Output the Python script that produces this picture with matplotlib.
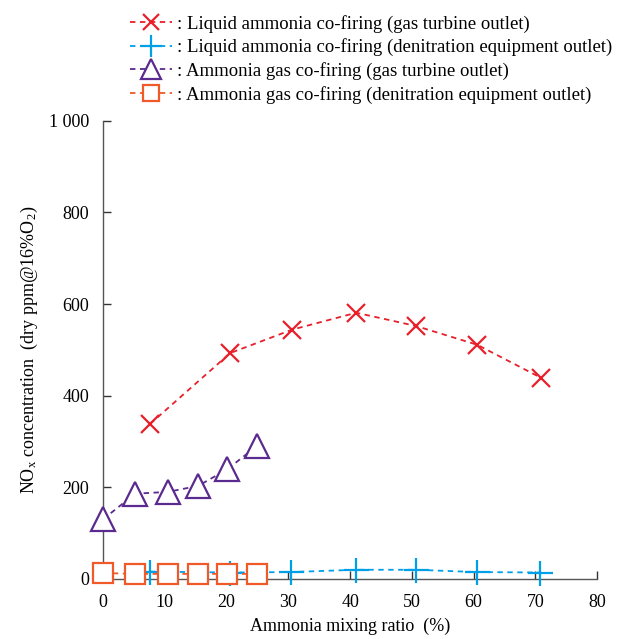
import matplotlib
matplotlib.use("Agg")
import matplotlib.pyplot as plt

plt.rcParams["font.family"] = ["Liberation Serif", "DejaVu Serif"]
plt.rcParams["mathtext.fontset"] = "stix"

liquid_gt_x = [7.6, 20.6, 30.6, 41.0, 50.7, 60.6, 70.9]
liquid_gt_y = [338, 493, 544, 581, 552, 511, 439]

liquid_de_x = [7.6, 20.6, 30.4, 41.0, 50.6, 60.5, 70.8]
liquid_de_y = [16, 14, 15, 20, 20, 15, 14]

gas_gt_x = [0, 5.2, 10.5, 15.4, 20.1, 24.9]
gas_gt_y = [130, 186, 190, 203, 239, 290]

gas_de_x = [0, 5.2, 10.5, 15.4, 20.1, 24.9]
gas_de_y = [13, 11, 11, 11, 11, 11]

labels = [
    ": Liquid ammonia co-firing (gas turbine outlet)",
    ": Liquid ammonia co-firing (denitration equipment outlet)",
    ": Ammonia gas co-firing (gas turbine outlet)",
    ": Ammonia gas co-firing (denitration equipment outlet)",
]

red = "#e8202a"
blue = "#00a0e9"
purple = "#5b2a8e"
orange = "#f05a28"

fig = plt.figure(figsize=(6.24, 6.39), dpi=100)
ax = fig.add_axes([0.165, 0.094, 0.792, 0.717])

dash = (0, (3, 2.5))
h1, = ax.plot(liquid_gt_x, liquid_gt_y, color=red, linestyle=dash, lw=1.3,
              marker="x", ms=13, mew=1.6, label=labels[0], zorder=3)
h2, = ax.plot(liquid_de_x, liquid_de_y, color=blue, linestyle=dash, lw=1.3,
              marker="+", ms=18, mew=1.6, label=labels[1], zorder=3)
h3, = ax.plot(gas_gt_x, gas_gt_y, color=purple, linestyle=dash, lw=1.3,
              marker="^", ms=17, mew=1.6, mfc="white", label=labels[2], zorder=4)
h4, = ax.plot(gas_de_x, gas_de_y, color=orange, linestyle=dash, lw=1.3,
              marker="s", ms=14, mew=1.6, mfc="white", label=labels[3], zorder=5)

ax.set_xlim(0, 80)
ax.set_ylim(0, 1000)
ax.set_xticks(range(0, 81, 10))
ax.set_yticks(range(0, 1001, 200))
ax.set_yticklabels(["0", "200", "400", "600", "800", "1 000"])
for line in (h1, h2, h3, h4):
    line.set_clip_on(False)

for side in ("top", "right"):
    ax.spines[side].set_visible(False)
for side in ("left", "bottom"):
    ax.spines[side].set_color("#555555")
    ax.spines[side].set_linewidth(1.0)
ax.tick_params(direction="in", length=6, width=1.0, color="#333333",
               labelsize=13)
ax.tick_params(axis="y", pad=10)
ax.tick_params(axis="x", pad=11)

ax.set_xlabel("Ammonia mixing ratio  (%)", fontsize=13, labelpad=5)
ax.set_ylabel(r"NO$_\mathregular{x}$ concentration  (dry ppm@16%O$_\mathregular{2}$)",
              fontsize=13, labelpad=6)

fig.legend(handles=[h1, h2, h3, h4], loc="upper left",
           bbox_to_anchor=(0.182, 1.003), frameon=False, fontsize=13.5,
           handlelength=2.2, handletextpad=0.3, labelspacing=0.3,
           markerscale=0.85)

fig.savefig("out.png", dpi=100)
